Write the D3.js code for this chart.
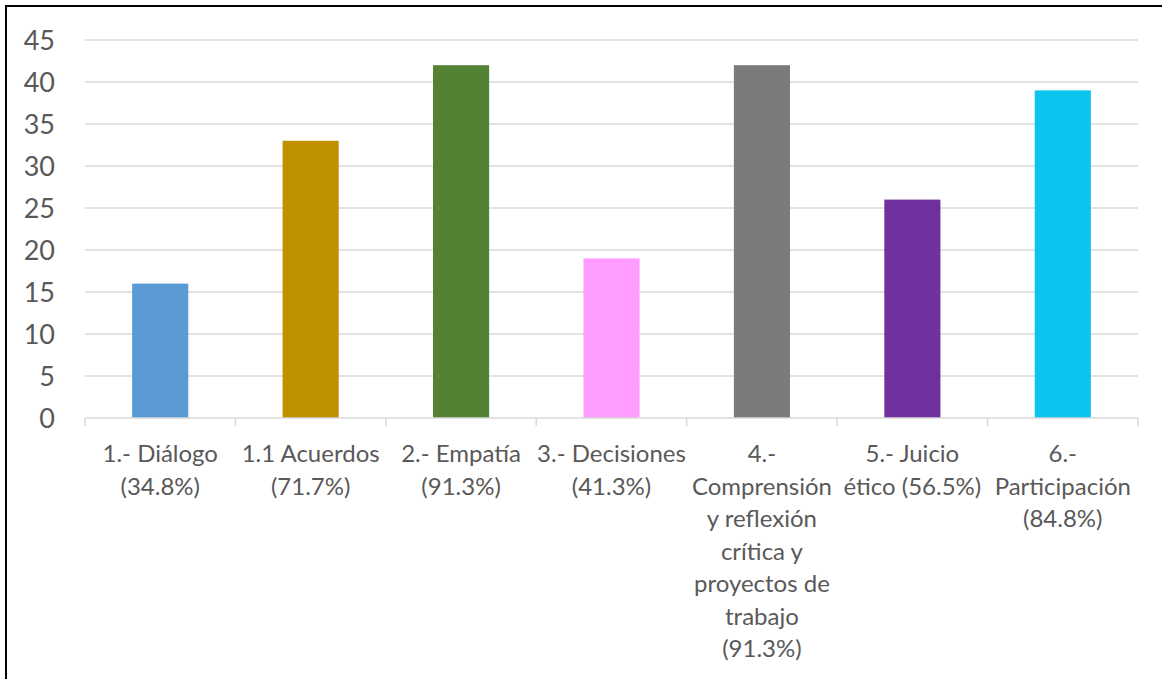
<!doctype html>
<html lang="es">
  <head>
    <meta charset="UTF-8" />
    <title>Competencias</title>
    <script src="https://d3js.org/d3.v7.min.js"></script>
    <style>
      html,body{margin:0;padding:0;background:#fff;}
      svg{display:block;font-family:Lato,"Open Sans",sans-serif;}
    </style>
  </head>
  <body>
    <div id="chart"></div>
    <script>
      /* ── data ── */
      const categories = [
        ['1.- Diálogo','(34.8%)'],
        ['1.1 Acuerdos','(71.7%)'],
        ['2.- Empatía','(91.3%)'],
        ['3.- Decisiones','(41.3%)'],
        ['4.-','Comprensión','y reflexión','crítica y','proyectos de','trabajo','(91.3%)'],
        ['5.- Juicio','ético (56.5%)'],
        ['6.-','Participación','(84.8%)']
      ];
      const values = [16, 33, 42, 19, 42, 26, 39];
      const colors = ['#5b9bd5','#bf9000','#548235','#ff9cff','#7b7b7b','#7030a0','#0bc5f0'];
      const yTicks = [0,5,10,15,20,25,30,35,40,45];

      /* ── geometry ── */
      const W = 1162, H = 679;
      const plotL = 85, plotR = 1138, plotT = 40, plotB = 418;

      const svg = d3.select('#chart').append('svg')
                    .attr('width', W).attr('height', H);

      // frame (only left/top edges fall inside the picture)
      svg.append('path')
         .attr('d', `M6,${H} V6 H${W}`)
         .attr('fill','none').attr('stroke','#000').attr('stroke-width',2);

      const idx = d3.range(categories.length);
      const x = d3.scaleBand().domain(idx).range([plotL, plotR]).paddingInner(0.627).paddingOuter(0.3135);
      const xOuter = d3.scaleBand().domain(idx).range([plotL, plotR]);
      const y = d3.scaleLinear().domain([0,45]).range([plotB, plotT]);

      /* gridlines */
      svg.append('g').selectAll('line')
         .data(yTicks.filter(d => d > 0))
         .join('line')
         .attr('x1', plotL).attr('x2', plotR)
         .attr('y1', d => y(d)).attr('y2', d => y(d))
         .attr('stroke','#d9d9d9').attr('stroke-width',1.5);

      /* y tick labels */
      svg.append('g').selectAll('text')
         .data(yTicks)
         .join('text')
         .attr('x', 55).attr('y', d => y(d))
         .attr('dy','0.36em')
         .attr('text-anchor','end')
         .attr('fill','#595959')
         .style('font-size','27px')
         .text(d => d);

      /* bars */
      svg.append('g').selectAll('rect')
         .data(values)
         .join('rect')
         .attr('x', (d,i) => x(i))
         .attr('width', x.bandwidth())
         .attr('y', d => y(d))
         .attr('height', d => y(0) - y(d))
         .attr('fill', (d,i) => colors[i]);

      /* x axis line + ticks */
      const axisG = svg.append('g').attr('stroke','#d9d9d9').attr('stroke-width',1.5);
      axisG.append('line').attr('x1', plotL).attr('x2', plotR).attr('y1', plotB).attr('y2', plotB);
      axisG.selectAll('line.tick')
           .data(d3.range(categories.length + 1))
           .join('line').attr('class','tick')
           .attr('x1', i => i < categories.length ? xOuter(i) : plotR)
           .attr('x2', i => i < categories.length ? xOuter(i) : plotR)
           .attr('y1', plotB).attr('y2', plotB + 8);

      /* category labels */
      const lab = svg.append('g').selectAll('text')
         .data(categories)
         .join('text')
         .attr('text-anchor','middle')
         .attr('fill','#595959')
         .style('font-size','24px');
      lab.each(function(lines, i){
        const cx = xOuter(i) + xOuter.bandwidth()/2;
        d3.select(this).selectAll('tspan')
          .data(lines).join('tspan')
          .attr('x', cx)
          .attr('y', (d,j) => 462 + j*32.5)
          .text(d => d);
      });
    </script>
  </body>
</html>
